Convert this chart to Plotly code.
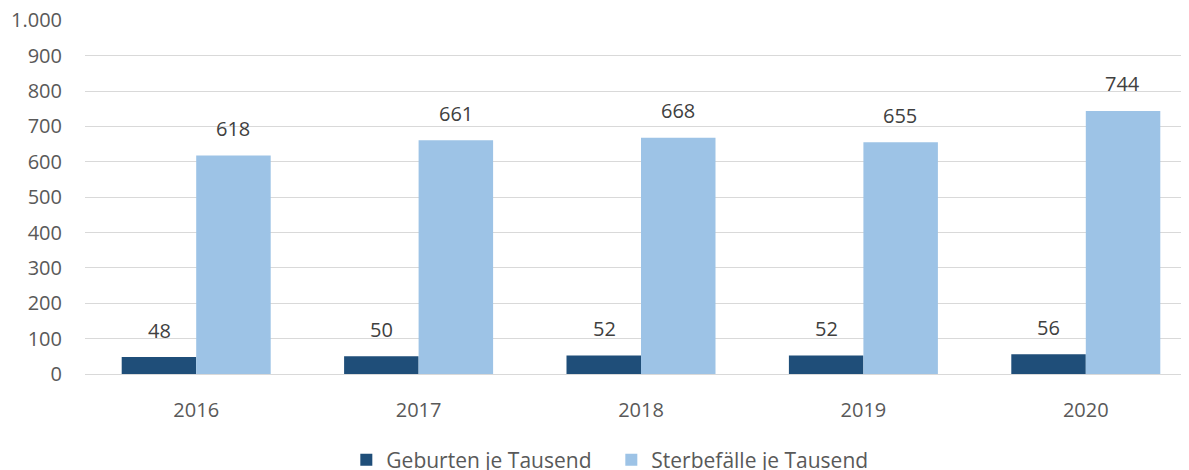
import plotly.graph_objects as go

years = ["2016", "2017", "2018", "2019", "2020"]
geburten = [48, 50, 52, 52, 56]
sterbefaelle = [618, 661, 668, 655, 744]
y_ticks = [0, 100, 200, 300, 400, 500, 600, 700, 800, 900, 1000]
y_tick_labels = ["0", "100", "200", "300", "400", "500", "600", "700", "800", "900", "1.000"]

dark = "#1F4E79"
light = "#9DC3E6"
font_family = "Open Sans, Noto Sans, sans-serif"

fig = go.Figure()
fig.add_trace(go.Bar(x=years, y=geburten, name="Geburten je Tausend",
                     marker=dict(color=dark, line=dict(width=0))))
fig.add_trace(go.Bar(x=years, y=sterbefaelle, name="Sterbefälle je Tausend",
                     marker=dict(color=light, line=dict(width=0))))

annotations = []
for i, yr in enumerate(years):
    for vals, shift in ((geburten, -37), (sterbefaelle, 37)):
        annotations.append(dict(
            x=i, y=vals[i], xref="x", yref="y", text=str(vals[i]),
            showarrow=False, xshift=shift, yshift=27, yanchor="middle",
            font=dict(family=font_family, size=20, color="#404040")))

fig.update_layout(
    width=1189, height=470,
    margin=dict(l=77, r=0, t=12, b=104, autoexpand=False),
    paper_bgcolor="white", plot_bgcolor="white",
    barmode="group", bargap=0.33, bargroupgap=0,
    font=dict(family=font_family, size=20, color="#595959"),
    legend=dict(orientation="h", x=0.235, xanchor="left", y=-0.185, yanchor="top",
                font=dict(size=21, color="#595959"), itemwidth=30,
                entrywidth=220, entrywidthmode="pixels",
                traceorder="normal"),
    annotations=annotations,
    showlegend=True,
)
fig.update_xaxes(range=[-0.5, 4.5], showgrid=False, showline=False,
                 ticks="", ticklabelstandoff=22, tickfont=dict(size=20, color="#595959"))
fig.update_yaxes(range=[0, 1001], tickvals=y_ticks, ticktext=y_tick_labels,
                 showgrid=True, gridcolor="#D9D9D9", gridwidth=1,
                 zeroline=True, zerolinecolor="#D9D9D9", zerolinewidth=1,
                 showline=False, ticks="", ticklabelstandoff=22,
                 ticklabeloverflow="allow",
                 tickfont=dict(size=20, color="#595959"))

fig.write_html("out.html")
